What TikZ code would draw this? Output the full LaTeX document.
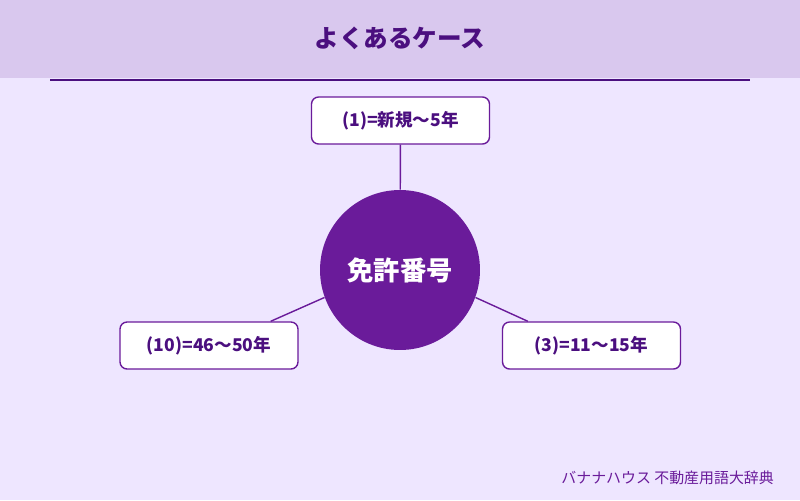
\documentclass[tikz,border=0pt]{standalone}
\usepackage{fontspec}
\setmainfont{Noto Sans CJK JP}
\usetikzlibrary{positioning}
\definecolor{bgpurple}{HTML}{EEE6FF}
\definecolor{headpurple}{HTML}{D9C8EE}
\definecolor{darkpurple}{HTML}{4B0F7F}
\definecolor{midpurple}{HTML}{6A1B9A}
\tikzset{
    casebox/.style={rectangle, draw=midpurple, thick, rounded corners=4pt, fill=white, minimum width=3.56cm, minimum height=0.94cm, font=\bfseries\fontsize{10}{12}\selectfont, text=darkpurple},
    hub/.style={circle, fill=midpurple, minimum size=3.2cm, text=white, font=\bfseries\fontsize{15}{18}\selectfont},
    link/.style={midpurple, thick}
}
\begin{document}
\begin{tikzpicture}[x=0.02cm, y=-0.02cm]
    % background and header
    \fill[bgpurple] (0,0) rectangle (800,500);
    \fill[headpurple] (0,0) rectangle (800,78);
    \node (title) at (400,38) {\bfseries\fontsize{14}{17}\selectfont\color{darkpurple}よくあるケース};
    \draw[darkpurple, thick] (50,80) -- (750,80);

    % center and cases
    \node (center) [hub] at (400,270) {免許番号};
    \node (case1) [casebox] at (400.5,120.5) {(1)=新規〜5年};
    \node (case10) [casebox] at (209,345.5) {(10)=46〜50年};
    \node (case3) [casebox] at (591.5,345.5) {(3)=11〜15年};

    % connectors
    \draw[link] (case1) -- (center);
    \draw[link] (case10.north east) ++(-28,0) coordinate (l1) -- (center.200);
    \draw[link] (case3.north west) ++(26,0) coordinate (r1) -- (center.-20);

    % footer
    \node (footer) [anchor=east] at (780,478) {\fontsize{8.5}{10}\selectfont\color{midpurple}バナナハウス 不動産用語大辞典};
\end{tikzpicture}
\end{document}
